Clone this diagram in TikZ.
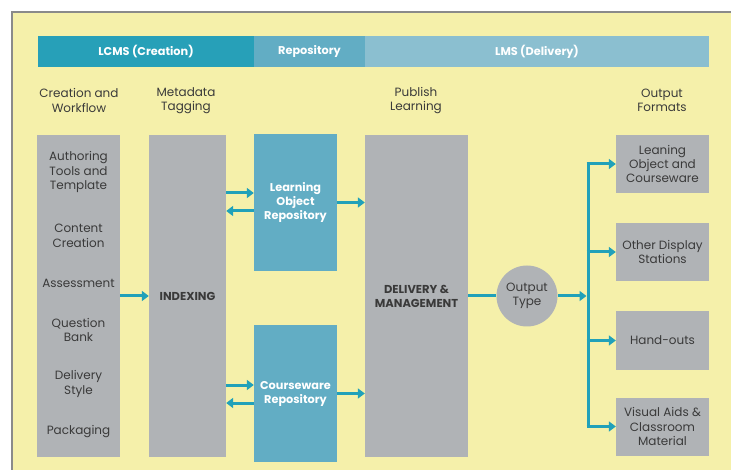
\documentclass[tikz,border=0pt]{standalone}
\usepackage{fontspec}
\setmainfont{Poppins}
\usetikzlibrary{arrows.meta,calc}

\definecolor{paper}{HTML}{F5F0AA}
\definecolor{frame}{HTML}{8A8A8A}
\definecolor{boxgray}{HTML}{B0B3B6}
\definecolor{lcmsblue}{HTML}{27A0B8}
\definecolor{repoblue}{HTML}{62ADC4}
\definecolor{lmsblue}{HTML}{8BBFD0}
\definecolor{flowblue}{HTML}{21A1B9}
\definecolor{ink}{HTML}{3A3A3A}

\tikzset{
  bar/.style={inner sep=0, minimum height=31pt, text=white, font=\bfseries\fontsize{11.3}{13}\selectfont},
  colbox/.style={fill=boxgray, inner sep=0, minimum height=322pt},
  repobox/.style={fill=repoblue, inner sep=0, minimum width=83pt, minimum height=137pt, align=center, text=white, font=\bfseries\fontsize{11.3}{14}\selectfont},
  outbox/.style={fill=boxgray, inner sep=0, minimum width=93pt, minimum height=58pt, align=center, text=ink, font=\fontsize{12}{14.2}\selectfont},
  label/.style={align=center, text=ink, font=\fontsize{12}{14.5}\selectfont},
  flow/.style={draw=flowblue, line width=3pt, -{Triangle[length=7pt,width=10pt]}},
  flowline/.style={draw=flowblue, line width=3pt},
}

\begin{document}
\begin{tikzpicture}[x=1pt,y=-1pt]
  \useasboundingbox (0,0) rectangle (731,470);
  \fill[paper] (12,12) rectangle (731,470);
  \draw[frame, line width=2pt] (12,470) -- (12,12) -- (731,12);

  % header bars
  \node[bar, fill=lcmsblue, minimum width=216pt] (lcms) at (146,51.5) {LCMS (Creation)};
  \node[bar, fill=repoblue, minimum width=111pt] (repo) at (309.5,51.5) {Repository};
  \node[bar, fill=lmsblue, minimum width=344pt] (lms) at (537,51.5) {LMS (Delivery)};

  % column titles
  \node[label] (t1) at (79,100.5) {Creation and\\Workflow};
  \node[label] (t2) at (186,100.5) {Metadata\\Tagging};
  \node[label] (t3) at (416,100.5) {Publish\\Learning};
  \node[label] (t4) at (662,100.5) {Output\\Formats};

  % creation column
  \node[colbox, minimum width=83pt] (create) at (78.5,296) {};
  \node[label] (c1) at (78.5,172) {Authoring\\Tools and\\Template};
  \node[label] (c2) at (78.5,236) {Content\\Creation};
  \node[label] (c3) at (78.5,283) {Assessment};
  \node[label] (c4) at (78.5,330) {Question\\Bank};
  \node[label] (c5) at (78.5,384) {Delivery\\Style};
  \node[label] (c6) at (78.5,432) {Packaging};

  \node[colbox, minimum width=77pt, font=\bfseries\fontsize{11.5}{14}\selectfont, text=ink] (index) at (187.5,296) {INDEXING};

  \node[repobox] (lor) at (295.5,202.5) {Learning\\Object\\Repository};
  \node[repobox] (crep) at (295.5,393.5) {Courseware\\Repository};

  \node[colbox, minimum width=103pt, align=center, font=\bfseries\fontsize{11.5}{14}\selectfont, text=ink] (deliv) at (416.5,296) {DELIVERY \&\\MANAGEMENT};

  \node[circle, fill=boxgray, minimum size=61pt, inner sep=0, label] (otype) at (527,296) {Output\\Type};

  \node[outbox] (f1) at (662.5,164) {Leaning\\Object and\\Courseware};
  \node[outbox] (f2) at (662.5,252) {Other Display\\Stations};
  \node[outbox] (f3) at (662.5,340.5) {Hand-outs};
  \node[outbox] (f4) at (662.5,426.5) {Visual Aids \&\\Classroom\\Material};

  % connectors
  \draw[flow] (create.east |- index) -- (index);
  \draw[flow] ($(index.east |- lor.west)+(0,-9.5)$) -- ($(lor.west)+(0,-9.5)$);
  \draw[flow] ($(lor.west)+(0,8.5)$) -- ($(index.east |- lor.west)+(0,8.5)$);
  \draw[flow] ($(index.east |- crep.west)+(0,-8.5)$) -- ($(crep.west)+(0,-8.5)$);
  \draw[flow] ($(crep.west)+(0,9.5)$) -- ($(index.east |- crep.west)+(0,9.5)$);
  \draw[flow] (lor.east) -- (lor.east -| deliv.west);
  \draw[flow] (crep.east) -- (crep.east -| deliv.west);
  \draw[flowline] (deliv.east |- otype) -- (otype);

  \coordinate (bus) at (588,296);
  \draw[flow] (otype.east) -- ([xshift=-1.5pt]bus);
  \draw[flowline] (bus |- f1) -- (bus |- f4);
  \foreach \f in {f1,f2,f3,f4}
    \draw[flow] ([xshift=-1.5pt]bus |- \f) -- (\f.west);
\end{tikzpicture}
\end{document}
